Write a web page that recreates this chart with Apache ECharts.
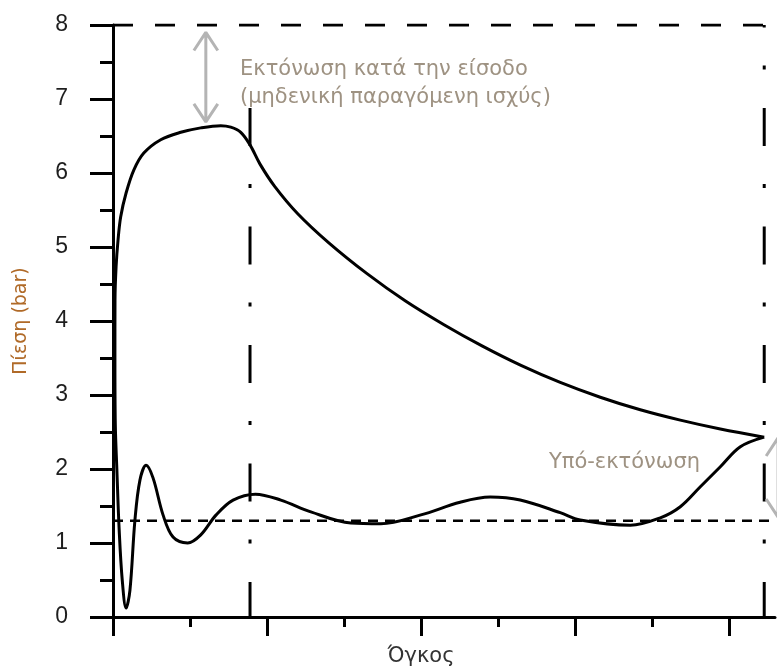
<!DOCTYPE html>
<html><head><meta charset="utf-8">
<script src="https://cdn.jsdelivr.net/npm/echarts@6/dist/echarts.min.js"></script>
<style>html,body{margin:0;padding:0;background:#fff}#c{width:783px;height:671px}</style>
</head><body><div id="c"></div>
<script>
// ---- data (value units: x = volume, y = pressure in bar) ----
const yTicks = [0, 1, 2, 3, 4, 5, 6, 7, 8];
const xMajorTicks = [0, 2, 4, 6, 8];
const xMinorTicks = [1, 3, 5, 7];
const cycleX = [8.46,7.89,7.37,6.85,6.33,5.81,5.3,4.8,4.3,3.8,3.3,2.8,2.4,2.1,1.91,1.78,1.66,1.53,1.40,1.14,0.88,0.62,0.40,0.27,0.17,0.10,0.065,0.04,0.026,0.025,0.03,0.05,0.08,0.12,0.17,0.22,0.285,0.35,0.43,0.52,0.65,0.78,0.97,1.14,1.34,1.56,1.85,2.18,2.57,3.09,3.48,4.0,4.51,4.9,5.29,5.81,6.07,6.72,7.11,7.37,7.63,7.89,8.15,8.46];
const cycleP = [2.43,2.54,2.66,2.8,2.97,3.17,3.4,3.66,3.95,4.27,4.64,5.06,5.45,5.82,6.12,6.38,6.55,6.62,6.64,6.61,6.55,6.45,6.27,6.04,5.73,5.41,5.09,4.73,4.28,3.5,2.6,2.0,1.18,0.5,0.12,0.36,1.31,1.85,2.05,1.88,1.38,1.08,1.0,1.11,1.38,1.58,1.66,1.58,1.42,1.27,1.26,1.38,1.55,1.62,1.58,1.41,1.31,1.24,1.34,1.49,1.76,2.03,2.30,2.43];
const topLimit = [[0, 8], [8.46, 8]];
const exhaustLevel = [[0, 1.3], [8.6, 1.3]];
const inletClose = [[1.78, 6.88], [1.78, 0]];
const outletEnd = [[8.46, 8], [8.46, 0]];
const arrowInlet = [[1.206, 7.9], [1.206, 6.69]];
const arrowUnder = [[8.64, 2.42], [8.64, 1.35]];
const texts = {
  yName: 'Πίεση (bar)',
  xName: 'Όγκος',
  inlet: 'Εκτόνωση κατά την είσοδο\n(μηδενική παραγόμενη ισχύς)',
  under: 'Υπό-εκτόνωση'
};

const cycle = cycleX.map((x, i) => [x, cycleP[i]]);
function arrowPath(a, dx, dy) {
  const x = a[0][0], yt = a[0][1], yb = a[1][1];
  return [[x - dx, yt - dy], [x, yt], [x + dx, yt - dy], [x, yt], [x, yb],
          [x - dx, yb + dy], [x, yb], [x + dx, yb + dy]];
}

const chart = echarts.init(document.getElementById('c'));
const xBase = {
  type: 'value', min: 0, max: 8.6, position: 'bottom', offset: 0,
  splitLine: { show: false }, axisLabel: { show: false }
};
chart.setOption({
  animation: false,
  grid: { left: 113, right: 8, top: 25, bottom: 54, containLabel: false, outerBoundsMode: 'none' },
  xAxis: [
    Object.assign({}, xBase, {
      axisLine: { show: true, onZero: false, lineStyle: { color: '#000', width: 3 } },
      axisTick: { show: true, customValues: xMajorTicks, length: 19, lineStyle: { color: '#000', width: 3 } }
    }),
    Object.assign({}, xBase, {
      axisLine: { show: false, onZero: false },
      axisTick: { show: true, customValues: xMinorTicks, length: 10, lineStyle: { color: '#000', width: 3 } }
    })
  ],
  yAxis: {
    type: 'value', min: 0, max: 8, interval: 1,
    name: texts.yName, nameLocation: 'middle', nameGap: 82,
    nameTextStyle: { fontSize: 19, color: '#b06a28', fontFamily: 'DejaVu Sans' },
    axisLine: { show: true, lineStyle: { color: '#000', width: 3 } },
    axisTick: { show: true, length: 23, lineStyle: { color: '#000', width: 3 } },
    minorTick: { show: true, splitNumber: 2, length: 13, lineStyle: { color: '#000', width: 3 } },
    splitLine: { show: false },
    axisLabel: { margin: 45, fontSize: 23, color: '#1e1e1e', fontFamily: 'Liberation Sans',
      formatter: v => yTicks.includes(v) ? String(v) : '' }
  },
  series: [
    { type: 'line', data: topLimit, symbol: 'none', silent: true,
      lineStyle: { color: '#000', width: 3, type: [20, 22] } },
    { type: 'line', data: exhaustLevel, symbol: 'none', silent: true,
      lineStyle: { color: '#000', width: 2.5, type: [10, 7] } },
    { type: 'line', data: inletClose, symbol: 'none', silent: true,
      lineStyle: { color: '#000', width: 3, type: [38, 38, 4, 38.5] } },
    { type: 'line', data: outletEnd, symbol: 'none', silent: true,
      lineStyle: { color: '#000', width: 3, type: [38, 38, 4, 38.5], dashOffset: 35.5 } },
    { type: 'line', data: cycle, symbol: 'none', smooth: 0.35, silent: true,
      lineStyle: { color: '#000', width: 3 } },
    { type: 'line', data: arrowPath(arrowInlet, 0.155, 0.245), symbol: 'none', silent: true, clip: false,
      lineStyle: { color: '#b4b4b4', width: 3 } },
    { type: 'line', data: arrowPath(arrowUnder, 0.155, 0.245), symbol: 'none', silent: true, clip: false,
      lineStyle: { color: '#b4b4b4', width: 3 } }
  ],
  graphic: [
    { type: 'text', x: 240, y: 56, style: { text: texts.inlet, fill: '#9e9282',
      font: '21px "DejaVu Sans"', lineHeight: 28 } },
    { type: 'text', x: 700, y: 463, style: { text: texts.under, fill: '#9e9282',
      font: '21px "DejaVu Sans"', align: 'right', verticalAlign: 'middle' } },
    { type: 'text', x: 421, y: 657, style: { text: texts.xName, fill: '#333',
      font: '21px "DejaVu Sans"', align: 'center', verticalAlign: 'middle' } }
  ]
});
</script></body></html>
